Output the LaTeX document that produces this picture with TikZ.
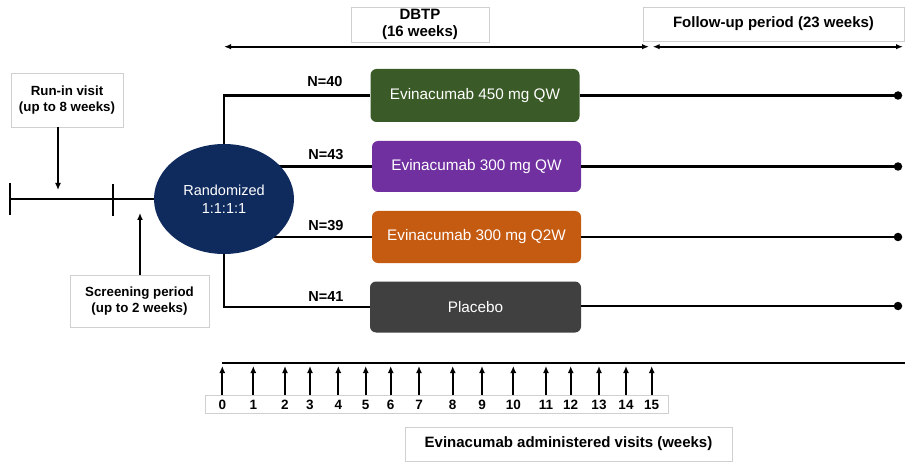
\documentclass[tikz,border=0pt]{standalone}
\usepackage{fontspec}
\setmainfont{Liberation Sans}
\usetikzlibrary{arrows.meta,shapes.geometric,backgrounds}
\definecolor{armgreen}{HTML}{3A5A27}
\definecolor{armpurple}{HTML}{7030A0}
\definecolor{armorange}{HTML}{C55A11}
\definecolor{armgray}{HTML}{404040}
\definecolor{ellnavy}{HTML}{0F2B5E}
\definecolor{boxline}{HTML}{D0D0D0}
\begin{document}
\begin{tikzpicture}[x=1pt,y=-1pt,
  lbl/.style={draw=boxline, line width=0.7pt, fill=white, align=center, inner sep=0pt,
    font=\bfseries\fontsize{15}{17}\selectfont},
  smalllbl/.style={lbl, font=\bfseries\fontsize{13.3}{16}\selectfont},
  nlbl/.style={font=\bfseries\fontsize{14.5}{16}\selectfont, inner sep=0pt},
  numlbl/.style={font=\bfseries\fontsize{13.5}{15}\selectfont, inner sep=0pt},
  arm/.style={rounded corners=6pt, text=white, inner sep=0pt,
    font=\fontsize{15.3}{18}\selectfont},
  ln/.style={line width=2.1pt},
  arr/.style={line width=2.1pt, -{Latex[length=7pt,width=6pt]}},
  varr/.style={line width=1.8pt, -{Latex[length=7pt,width=6pt]}},
  darr/.style={line width=2.1pt, {Latex[length=7pt,width=5.5pt]}-{Latex[length=7pt,width=5.5pt]}},
  dot/.style={circle, fill=black, minimum size=8.5pt, inner sep=0pt},
]
\useasboundingbox (0,0) rectangle (905,465);

% header boxes and period arrows
\node[lbl, minimum width=138pt, minimum height=35pt] (dbtp) at (420,24.5) {DBTP\\(16 weeks)};
\node[lbl, minimum width=261pt, minimum height=34pt] (fup) at (773.5,24) {Follow-up period (23 weeks)};
\coordinate (dA) at (224,46.7);
\coordinate (dB) at (649,46.7);
\coordinate (fA) at (652.7,46.7);
\coordinate (fB) at (903,46.7);
\draw[darr] (dA) -- (dB);
\draw[darr] (fA) -- (fB);

% left part
\node[smalllbl, minimum width=112pt, minimum height=54pt] (runin) at (67,100) {Run-in visit\\(up to 8 weeks)};
\node[smalllbl, minimum width=139pt, minimum height=52pt] (scr) at (139.5,301) {Screening period\\(up to 2 weeks)};
\node[ellipse, fill=ellnavy, text=white, minimum width=140pt, minimum height=110pt, inner sep=0pt,
  align=center, font=\fontsize{14.5}{17.5}\selectfont] (ell) at (224,199) {Randomized\\1:1:1:1};

\coordinate (tl0) at (10,199);
\coordinate (tk0a) at (10,183);
\coordinate (tk0b) at (10,215);
\coordinate (tk1a) at (113,184);
\coordinate (tk1b) at (113,216);
\draw[ln] (tl0) -- (ell.west);
\draw[ln] (tk0a) -- (tk0b);
\draw[ln] (tk1a) -- (tk1b);
\coordinate (ra) at (58,127);
\coordinate (rb) at (58,190);
\draw[arr] (ra) -- (rb);
\coordinate (sb) at (140,213);
\draw[arr] (scr.north -| sb) -- (sb);

% arms
\node[arm, fill=armgreen, minimum width=209pt, minimum height=53pt] (b1) at (475,95.5) {Evinacumab 450 mg QW};
\node[arm, fill=armpurple, minimum width=209pt, minimum height=51pt] (b2) at (476.5,166.5) {Evinacumab 300 mg QW};
\node[arm, fill=armorange, minimum width=209pt, minimum height=52pt] (b3) at (476.5,237) {Evinacumab 300 mg Q2W};
\node[arm, fill=armgray, minimum width=211pt, minimum height=51pt] (b4) at (475.5,307) {Placebo};

\begin{scope}[on background layer]
\fill[white] (0,0) rectangle (905,465);
\draw[ln] (ell.north) |- (b1.west);
\draw[ln] (b2.west -| ell.center) -- (b2.west);
\draw[ln] (b3.west -| ell.center) -- (b3.west);
\draw[ln] (ell.south) |- (b4.west);
\end{scope}

\node[nlbl] (n1) at (325,82) {N=40};
\node[nlbl] (n2) at (326,155) {N=43};
\node[nlbl] (n3) at (326,226) {N=39};
\node[nlbl] (n4) at (326,297) {N=41};

\foreach \i/\y in {1/95.5,2/166.5,3/237,4/306}{
  \node[dot] (e\i) at (898,\y) {};
  \draw[ln] (b\i.east |- e\i) -- (e\i.center);
}

% administration timeline
\coordinate (ax0) at (221.7,362.7);
\coordinate (ax1) at (905,362.7);
\draw[ln] (ax0) -- (ax1);
\node[draw=boxline, line width=0.7pt, minimum width=463pt, minimum height=18pt, inner sep=0pt] (numbox) at (436.5,404) {};
\foreach \n/\x in {0/222.3,1/253.3,2/285,3/310,4/338.3,5/365.7,6/390.7,7/419,8/452.7,9/482,10/513.3,11/546,12/570.7,13/599,14/626,15/651.7}{
  \node[numlbl] (w\n) at (\x,404.5) {\n};
  \coordinate (wt\n) at (\x,366);
  \draw[varr] (numbox.north -| wt\n) -- (wt\n);
}
\node[lbl, minimum width=327pt, minimum height=34pt] (adm) at (568.5,444) {Evinacumab administered visits (weeks)};
\end{tikzpicture}
\end{document}
